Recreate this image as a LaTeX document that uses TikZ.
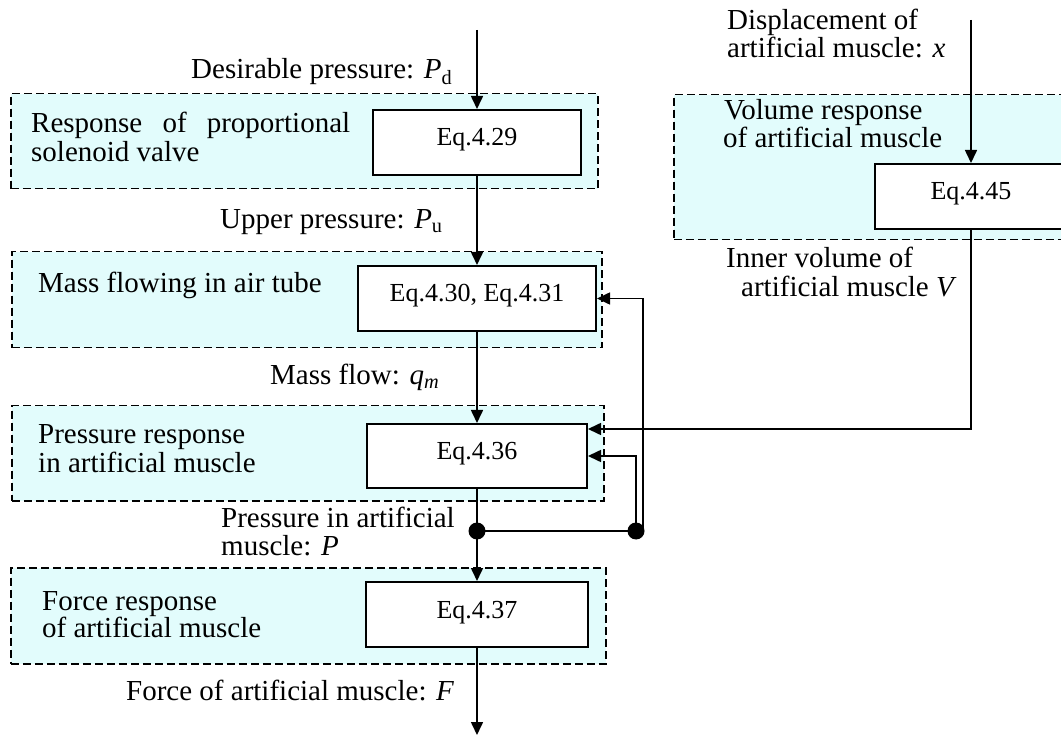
\documentclass[tikz,border=0pt]{standalone}
\usepackage{fontspec}
\setmainfont{Liberation Serif}
\usetikzlibrary{arrows.meta}
\definecolor{bgcyan}{RGB}{226,252,252}
\begin{document}
\begin{tikzpicture}[x=1pt,y=-1pt,
  every node/.style={font=\fontsize{29}{29}\selectfont, inner sep=0pt},
  dashbox/.style={draw, dash pattern=on 8pt off 4pt, line width=1.5pt, fill=bgcyan, anchor=north west},
  eqbox/.style={draw, line width=2pt, fill=white, font=\fontsize{26}{26}\selectfont,
                text height=36pt, text depth=29pt, inner xsep=0pt, inner ysep=0pt, minimum height=65pt},
  lbl/.style={anchor=base west},
  arr/.style={line width=1.6pt, -{Triangle[length=13pt,width=12pt]}},
  conn/.style={line width=1.6pt},
  dotn/.style={circle, fill=black, minimum size=17pt}
]
\useasboundingbox (0,0) rectangle (1061,735);
\clip (0,0) rectangle (1061,735);

% dashed group boxes
\node[dashbox, minimum width=587pt, minimum height=95pt] (d1) at (10,93) {};
\node[dashbox, minimum width=590pt, minimum height=96pt] (d2) at (11,251) {};
\node[dashbox, minimum width=592pt, minimum height=95pt] (d3) at (11,405) {};
\node[dashbox, minimum width=595pt, minimum height=96pt] (d4) at (10,567) {};
\node[dashbox, minimum width=400pt, minimum height=145pt] (d5) at (673,94) {};

% group texts
\node[lbl] (t1a) at (31,133) {\makebox[319pt][s]{Response of proportional}};
\node[lbl] (t1b) at (31,162) {solenoid valve};
\node[lbl] (t2) at (38,293) {Mass flowing in air tube};
\node[lbl] (t3a) at (38,443) {Pressure response};
\node[lbl] (t3b) at (38,472) {in artificial muscle};
\node[lbl] (t4a) at (42,610) {Force response};
\node[lbl] (t4b) at (42,637) {of artificial muscle};
\node[lbl] (t5a) at (724,120) {Volume response};
\node[lbl] (t5b) at (723,148) {of artificial muscle};

% equation boxes
\node[eqbox, minimum width=208pt] (eq29) at (477,142.5) {Eq.4.29};
\node[eqbox, minimum width=238pt] (eq30) at (477,298.5) {Eq.4.30, Eq.4.31};
\node[eqbox, minimum width=220pt, minimum height=64pt, text depth=28pt] (eq36) at (477,456) {Eq.4.36};
\node[eqbox, minimum width=222pt] (eq37) at (477,614.5) {Eq.4.37};
\node[eqbox, minimum width=192pt] (eq45) at (971,196.5) {Eq.4.45};

% signal labels
\node[lbl] (lPd) at (191,79) {Desirable pressure: \textit{P}\textsubscript{d}};
\node[lbl] (lPu) at (220,229) {Upper pressure: \textit{P}\textsubscript{u}};
\node[lbl] (lqm) at (270,385) {Mass flow: \textit{q}\textsubscript{\textit{m}}};
\node[lbl] (lPa) at (221,527) {Pressure in artificial};
\node[lbl] (lPb) at (221,555) {muscle: \textit{P}};
\node[lbl] (lF) at (126,700) {Force of artificial muscle: \textit{F}};
\node[lbl] (lxa) at (727,30) {Displacement of};
\node[lbl] (lxb) at (727,58) {artificial muscle: \textit{x}};
\node[lbl] (lVa) at (726,268) {Inner volume of};
\node[lbl] (lVb) at (741,297) {artificial muscle \textit{V}};

% junctions and free ends
\node[dotn] (dot1) at (477,531) {};
\node[dotn] (dot2) at (636,531) {};
\coordinate (fb2) at (643,531);
\coordinate (inPd) at (477,30);
\coordinate (inX) at (971,20);
\coordinate (outF) at (477,735);

% connectors
\draw[arr] (inPd) -- (eq29.north);
\draw[arr] (eq29.south) -- (eq30.north);
\draw[arr] (eq30.south) -- (eq36.north);
\draw[conn] (eq36.south) -- (dot1.center);
\draw[arr] (dot1.center) -- (eq37.north);
\draw[arr] (eq37.south) -- (outF);
\draw[conn] (dot1.center) -- (dot2.center);
\draw[arr] (dot2.center) |- (eq36.east);
\draw[arr] (fb2) |- (eq30.east);
\draw[arr] (inX) -- (eq45.north);
\draw[arr] (eq45.south) |- ([yshift=27pt]eq36.east);
\end{tikzpicture}
\end{document}
